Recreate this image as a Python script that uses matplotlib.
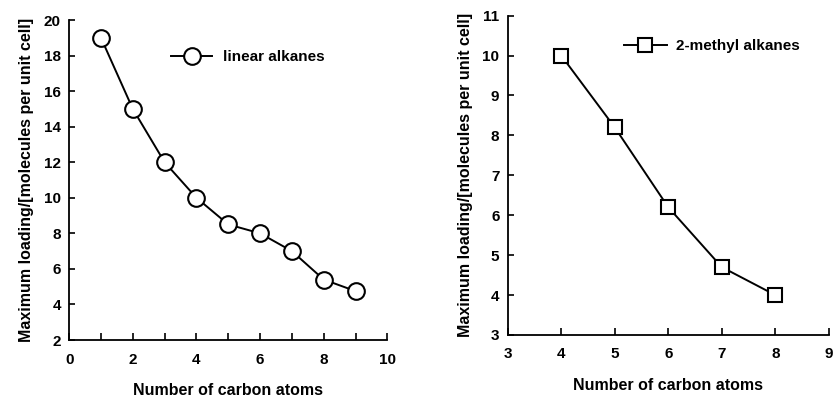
import matplotlib.pyplot as plt
from matplotlib.ticker import MultipleLocator

plt.switch_backend("agg")
plt.rcParams["font.family"] = ["Liberation Sans", "DejaVu Sans"]
plt.rcParams["font.size"] = 11
plt.rcParams["font.weight"] = "bold"
plt.rcParams["axes.labelweight"] = "bold"

# carbon number vs. maximum loading
linear_n = [1, 2, 3, 4, 5, 6, 7, 8, 9]
linear_load = [19.0, 15.0, 12.0, 10.0, 8.5, 8.0, 7.0, 5.4, 4.75]

methyl_n = [4, 5, 6, 7, 8]
methyl_load = [10.0, 8.2, 6.2, 4.7, 4.0]

XLABEL = "Number of carbon atoms"
YLABEL = "Maximum loading/[molecules per unit cell]"


def style_axes(ax):
    for side in ("top", "right"):
        ax.spines[side].set_visible(False)
    for side in ("left", "bottom"):
        ax.spines[side].set_linewidth(1.3)
    ax.tick_params(axis="x", which="both", direction="in", length=5,
                   width=1.2, pad=9)
    ax.tick_params(axis="y", direction="in", length=4, width=1.2, pad=6)
    ax.set_xlabel(XLABEL, labelpad=12, fontsize=11.5)
    ax.set_ylabel(YLABEL, labelpad=7, fontsize=11.5)


fig = plt.figure(figsize=(8.33, 4.0), dpi=100)

ax1 = fig.add_axes([0.083, 0.15, 0.382, 0.80])
ax1.plot(linear_n, linear_load, "-o", color="black", lw=1.4, ms=12,
         mfc="white", mew=1.5, label="linear alkanes")
ax1.set_xlim(0, 10)
ax1.set_ylim(2, 20)
ax1.set_xticks(range(0, 11, 2))
ax1.xaxis.set_minor_locator(MultipleLocator(1))
ax1.set_yticks(range(2, 21, 2))
style_axes(ax1)
ax1.legend(loc="center left", bbox_to_anchor=(0.32, 0.884), frameon=False,
           borderpad=0, borderaxespad=0, handlelength=2.7, handletextpad=0.7)

ax2 = fig.add_axes([0.6095, 0.1625, 0.3855, 0.7985])
ax2.plot(methyl_n, methyl_load, "-s", color="black", lw=1.4, ms=10,
         mfc="white", mew=1.5, label="2-methyl alkanes")
ax2.set_xlim(3, 9)
ax2.set_ylim(3, 11)
ax2.set_xticks(range(3, 10))
ax2.set_yticks(range(3, 12))
style_axes(ax2)
ax2.legend(loc="center left", bbox_to_anchor=(0.362, 0.905), frameon=False,
           borderpad=0, borderaxespad=0, handlelength=2.8, handletextpad=0.6)

fig.savefig("out.png", dpi=100)
